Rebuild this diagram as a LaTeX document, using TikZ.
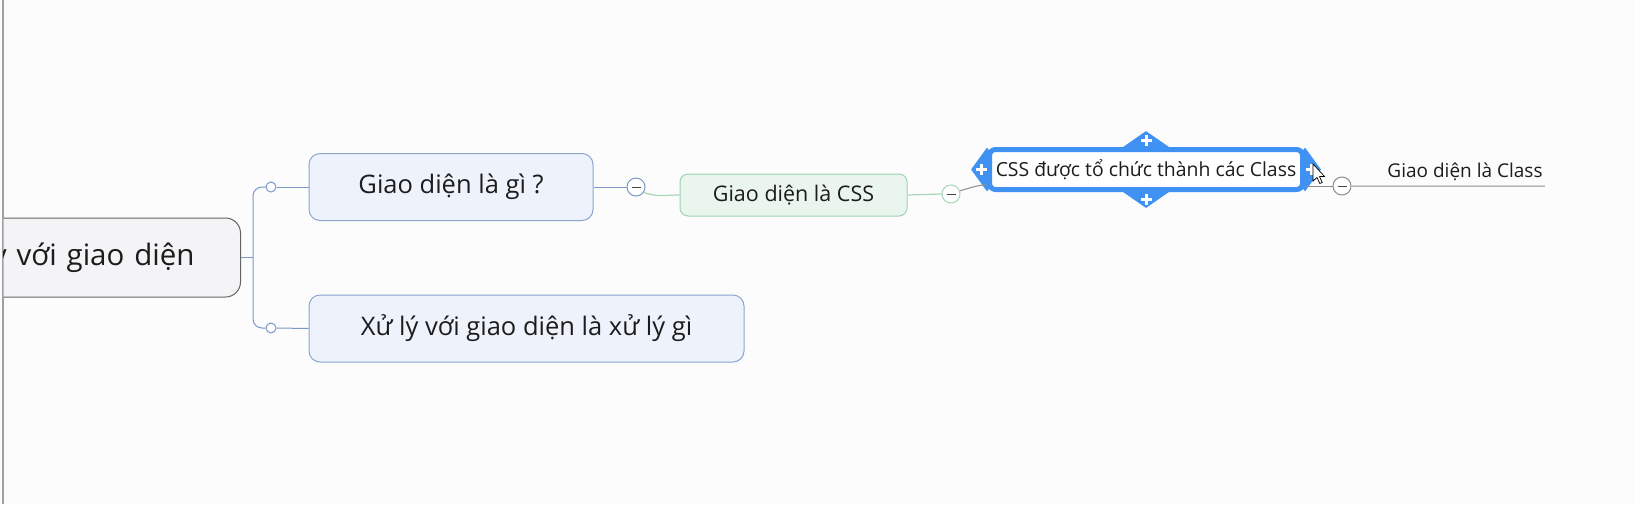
\documentclass[tikz,border=0pt]{standalone}
\usepackage{fontspec}
\setmainfont{Open Sans}
\usepackage{xcolor}
\usepackage{tikz}
\usetikzlibrary{shapes.geometric}

\definecolor{bg}{RGB}{252,252,253}
\definecolor{edge}{RGB}{160,160,160}
\definecolor{ink}{RGB}{28,28,28}
\definecolor{minus}{RGB}{70,70,70}
\definecolor{rootfill}{RGB}{244,244,246}
\definecolor{rootline}{RGB}{100,100,100}
\definecolor{topicfill}{RGB}{238,243,251}
\definecolor{topicline}{RGB}{138,166,207}
\definecolor{bluelink}{RGB}{122,152,200}
\definecolor{subfill}{RGB}{234,245,238}
\definecolor{subline}{RGB}{160,210,178}
\definecolor{greenlink}{RGB}{168,213,184}
\definecolor{pick}{RGB}{64,146,242}
\definecolor{graylink}{RGB}{140,140,140}

\begin{document}
\begin{tikzpicture}[x=1pt,y=-1pt,
  rootbox/.style={draw=rootline, fill=rootfill, rounded corners=15pt, line width=1pt, minimum height=79pt, text width=260pt, align=right, inner xsep=46pt, font=\fontsize{29.5}{34}\selectfont, text=ink},
  topic/.style={draw=topicline, fill=topicfill, rounded corners=11pt, line width=1pt, minimum height=67pt, font=\fontsize{25.5}{30}\selectfont, text=ink},
  subtopic/.style={draw=subline, fill=subfill, rounded corners=8pt, line width=1pt, minimum width=227pt, minimum height=42pt, font=\fontsize{21.5}{25}\selectfont, text=ink},
  picked/.style={draw=pick, fill=white, rounded corners=6pt, line width=5pt, minimum width=313pt, minimum height=40pt, inner sep=0pt, font=\fontsize{19.4}{23}\selectfont, text=ink},
  tab/.style={diamond, fill=pick, inner sep=0pt},
  knob/.style={circle, draw=bluelink, fill=white, line width=1pt, minimum size=10pt, inner sep=0pt},
  fold/.style={circle, fill=white, line width=1pt, minimum size=18pt, inner sep=0pt},
  leafnote/.style={inner xsep=2pt, inner ysep=0pt, text depth=9pt, font=\fontsize{19}{23}\selectfont, text=ink}]

\useasboundingbox (0,0) rectangle (1635,504);
\fill[bg] (0,0) rectangle (1635,504);
\draw[edge, line width=2pt] (2.5,0) -- (2.5,504);

\begin{scope}
\clip (3.5,0) rectangle (1635,504);
\node[rootbox, anchor=east] (root) at (241,257.5) {ý với giao diện};
\end{scope}

\coordinate (fork) at (253,257.5);
\node[knob] (k1) at (271,187) {};
\node[knob] (k2) at (271,328) {};
\node[topic, minimum width=284pt] (q1) at (451,187) {Giao diện là gì ?};
\node[topic, minimum width=435pt] (q2) at (526.5,328.5) {Xử lý với giao diện là xử lý gì};

\draw[bluelink, line width=1pt] (root.east) -- (fork);
\draw[bluelink, line width=1pt, rounded corners=9pt] (k1.west) -| (fork) |- (k2.west);
\draw[bluelink, line width=1pt] (k1.east) -- (q1.west);
\draw[bluelink, line width=1pt] (k2.east) -- (q2.west);

\node[fold, draw=bluelink] (c1) at (636,187) {};
\draw[bluelink, line width=1pt] (q1.east) -- (c1.west);

\node[subtopic] (g1) at (793.5,195) {Giao diện là CSS};
\draw[greenlink, line width=1.2pt] (c1.-35) to[out=-20, in=180] (g1.west);

\node[fold, draw=greenlink] (c2) at (951,194) {};
\draw[greenlink, line width=1.2pt] (g1.east) -- (c2.west);

\node[tab, minimum width=46pt, minimum height=32pt] (h1) at (1146,147) {};
\node[tab, minimum width=46pt, minimum height=32pt] (h2) at (1146,192) {};
\node[tab, minimum width=32pt, minimum height=44pt] (h3) at (987,169.5) {};
\node[tab, minimum width=32pt, minimum height=44pt] (h4) at (1305,169.5) {};
\node[picked] (sel) at (1146,169.5) {CSS được tổ chức thành các Class};
\foreach \p in {([yshift=7pt]sel.north), ([yshift=-7pt]sel.south), ([xshift=-6pt]sel.west), ([xshift=6pt]sel.east)}
  \draw[white, line width=3pt] \p ++(-5.5,0) -- ++(11,0) \p ++(0,-5.5) -- ++(0,11);

\draw[graylink, line width=1pt] (c2.20) to[out=15, in=185] ([yshift=-15pt]sel.west);

\node[fold, draw=graylink] (c3) at (1342,186) {};
\node[leafnote, anchor=base] (cls) at (1465,177) {Giao diện là Class};
\draw[graylink, line width=1pt] ([yshift=-16.5pt]sel.east) -- (c3.west);
\draw[graylink, line width=1pt] (c3.east) -- (cls.south west) -- (cls.south east);

\foreach \c in {c1,c2,c3}
  \draw[minus, line width=1pt] ([xshift=-4.5pt]\c.center) -- ([xshift=4.5pt]\c.center);

\draw[black, fill=white, line width=0.7pt, shift={(1313,164)}] (0,0) -- (0,17) -- (4,13.5) -- (6.8,19.5) -- (9.2,18.4) -- (6.5,12.6) -- (11.5,12.4) -- cycle;
\end{tikzpicture}
\end{document}
